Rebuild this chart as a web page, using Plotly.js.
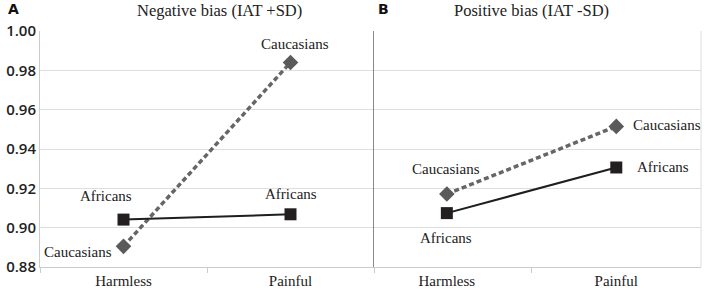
<!DOCTYPE html>
<html><head><meta charset="utf-8">
<script src="https://cdn.plot.ly/plotly-3.0.1.min.js"></script>
<style>html,body{margin:0;padding:0;background:#fff}#chart{width:709px;height:296px}</style>
</head><body><div id="chart"></div>
<script>
const categories = ["Harmless", "Painful"];
const negAfricans = [0.9041, 0.9068];
const negCaucasians = [0.8905, 0.9840];
const posAfricans = [0.9074, 0.9306];
const posCaucasians = [0.9171, 0.9515];
const yTicks = [0.88, 0.90, 0.92, 0.94, 0.96, 0.98, 1.00];
const yTickLabels = ["0.88", "0.90", "0.92", "0.94", "0.96", "0.98", "1.00"];
const panelTitles = ["Negative bias (IAT +SD)", "Positive bias (IAT -SD)"];
const panelLetters = ["A", "B"];
const seriesNames = ["Africans", "Caucasians"];

const serif = "Liberation Serif, serif";
const afrStyle = {line: {color: "#1e1e1e", width: 2}, marker: {symbol: "square", size: 12, color: "#231f20"}};
const cauStyle = {line: {color: "#666666", width: 3.5, dash: "5px,3px"}, marker: {symbol: "diamond", size: 12, color: "#5a5a5a"}};

function tr(y, style, xa, ya, name) {
  return {x: categories, y: y, type: "scatter", mode: "lines+markers", name: name,
    xaxis: xa, yaxis: ya, line: style.line, marker: style.marker, cliponaxis: false, hoverinfo: "skip"};
}
const data = [
  tr(negCaucasians, cauStyle, "x", "y", seriesNames[1]),
  tr(negAfricans, afrStyle, "x", "y", seriesNames[0]),
  tr(posCaucasians, cauStyle, "x2", "y2", seriesNames[1]),
  tr(posAfricans, afrStyle, "x2", "y2", seriesNames[0])
];

function lab(text, xr, yr, xi, yv, xs, ys, xanchor) {
  return {text: text, xref: xr, yref: yr, x: categories[xi], y: yv, xshift: xs, yshift: ys,
    showarrow: false, xanchor: xanchor || "center", yanchor: "middle",
    font: {family: serif, size: 15, color: "#222"}};
}
const annotations = [
  lab(seriesNames[0], "x", "y", 0, negAfricans[0], -18, 24),
  lab(seriesNames[0], "x", "y", 1, negAfricans[1], 0, 20),
  lab(seriesNames[1], "x", "y", 0, negCaucasians[0], -46, -6),
  lab(seriesNames[1], "x", "y", 1, negCaucasians[1], 4, 18),
  lab(seriesNames[1], "x2", "y2", 0, posCaucasians[0], -1, 25),
  lab(seriesNames[1], "x2", "y2", 1, posCaucasians[1], 15, 1, "left"),
  lab(seriesNames[0], "x2", "y2", 1, posAfricans[1], 19, 0, "left"),
  lab(seriesNames[0], "x2", "y2", 0, posAfricans[0], -1, -25),
  {text: "<b>" + panelLetters[0] + "</b>", xref: "paper", yref: "paper", x: (13 - 40) / 661, y: 1 + (31 - 9) / 235.7,
   showarrow: false, xanchor: "center", yanchor: "middle", font: {family: "DejaVu Sans, sans-serif", size: 14, color: "#111"}},
  {text: panelTitles[0], xref: "paper", yref: "paper", x: (219 - 40) / 661, y: 1 + (31 - 11) / 235.7,
   showarrow: false, xanchor: "center", yanchor: "middle", font: {family: serif, size: 16.5, color: "#222"}},
  {text: "<b>" + panelLetters[1] + "</b>", xref: "paper", yref: "paper", x: (383 - 40) / 661, y: 1 + (31 - 9) / 235.7,
   showarrow: false, xanchor: "center", yanchor: "middle", font: {family: "DejaVu Sans, sans-serif", size: 14, color: "#111"}},
  {text: panelTitles[1], xref: "paper", yref: "paper", x: (531 - 40) / 661, y: 1 + (31 - 11) / 235.7,
   showarrow: false, xanchor: "center", yanchor: "middle", font: {family: serif, size: 16.5, color: "#222"}}
];

const split = (374 - 40) / 661;
const xCommon = {type: "category", tickson: "boundaries", ticks: "outside", ticklen: 5, tickcolor: "#cccccc",
  showline: true, linecolor: "#cccccc", linewidth: 1, showgrid: false, zeroline: false,
  tickfont: {family: serif, size: 15, color: "#222"}, fixedrange: true};
const yCommon = {range: [0.88, 1.00], tickvals: yTicks, showgrid: true, gridcolor: "#dddddd", gridwidth: 1,
  zeroline: false, showline: true, fixedrange: true};

const layout = {
  width: 709, height: 296,
  margin: {l: 40, r: 8, t: 31, b: 29.3},
  paper_bgcolor: "#ffffff", plot_bgcolor: "#ffffff",
  showlegend: false,
  xaxis: Object.assign({}, xCommon, {domain: [0, split], range: [-0.5, 1.5], anchor: "y"}),
  xaxis2: Object.assign({}, xCommon, {domain: [split, 1], range: [-0.43, 1.5], anchor: "y2", mirror: false}),
  yaxis: Object.assign({}, yCommon, {anchor: "x", ticktext: yTickLabels, linecolor: "#cccccc",
    ticks: "", tickfont: {family: "Open Sans, sans-serif", size: 15, weight: 600, color: "#222"}}),
  yaxis2: Object.assign({}, yCommon, {anchor: "x2", matches: "y", showticklabels: false, ticks: "",
    linecolor: "#888888", mirror: false}),
  shapes: [
    {type: "line", xref: "x2 domain", yref: "y2 domain", x0: 1, x1: 1, y0: 0, y1: 1, line: {color: "#dddddd", width: 1}}
  ],
  annotations: annotations
};
Plotly.newPlot("chart", data, layout, {staticPlot: true, displayModeBar: false});
</script></body></html>
